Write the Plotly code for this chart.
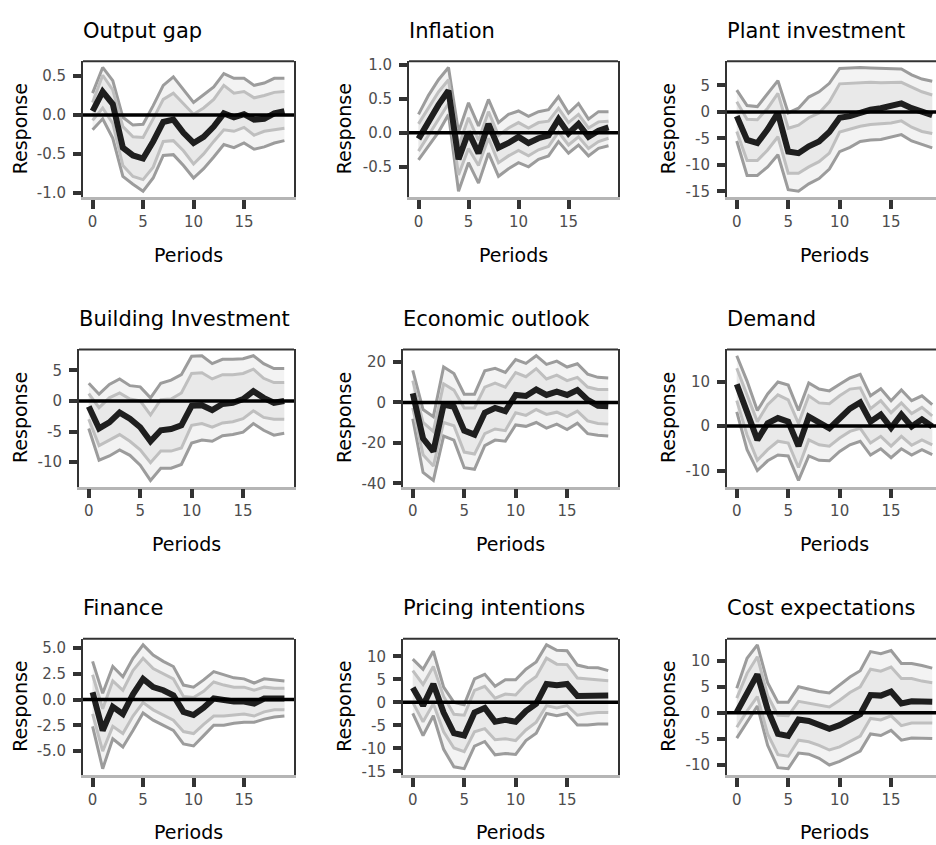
import plotly.graph_objects as go

# ---------------------------------------------------------------------------
# Impulse responses: median with two credible bands (inner / outer)
# ---------------------------------------------------------------------------
periods = list(range(20))

output_gap_med = [0.05, 0.30, 0.14, -0.42, -0.52, -0.56, -0.34, -0.09, -0.06, -0.23, -0.36, -0.28, -0.15, 0.02, -0.03, 0.01, -0.06, -0.05, 0.02, 0.05]
output_gap_hi2 = [0.28, 0.61, 0.44, -0.03, -0.13, -0.12, 0.12, 0.38, 0.49, 0.32, 0.16, 0.26, 0.36, 0.53, 0.47, 0.47, 0.38, 0.41, 0.47, 0.47]
output_gap_hi1 = [0.16, 0.51, 0.32, -0.15, -0.28, -0.29, -0.05, 0.20, 0.28, 0.14, 0.01, 0.09, 0.20, 0.38, 0.28, 0.30, 0.22, 0.25, 0.29, 0.30]
output_gap_lo1 = [-0.07, 0.09, -0.11, -0.65, -0.79, -0.83, -0.67, -0.34, -0.33, -0.46, -0.63, -0.50, -0.34, -0.19, -0.21, -0.16, -0.26, -0.21, -0.19, -0.17]
output_gap_lo2 = [-0.19, -0.05, -0.30, -0.79, -0.89, -0.98, -0.81, -0.52, -0.51, -0.65, -0.81, -0.69, -0.54, -0.38, -0.42, -0.36, -0.44, -0.41, -0.36, -0.33]
output_gap_ticks = [-1.0, -0.5, 0.0, 0.5]
output_gap_labels = ["-1.0", "-0.5", "0.0", "0.5"]

inflation_med = [-0.09, 0.17, 0.41, 0.62, -0.39, 0.01, -0.30, 0.13, -0.22, -0.15, -0.06, -0.15, -0.08, -0.04, 0.20, -0.01, 0.13, -0.06, 0.03, 0.08]
inflation_hi2 = [0.27, 0.55, 0.78, 0.96, 0.01, 0.44, 0.10, 0.49, 0.15, 0.27, 0.32, 0.24, 0.31, 0.34, 0.53, 0.29, 0.43, 0.20, 0.31, 0.31]
inflation_hi1 = [0.13, 0.36, 0.60, 0.78, -0.20, 0.22, -0.11, 0.31, -0.04, 0.07, 0.15, 0.07, 0.15, 0.17, 0.36, 0.15, 0.27, 0.07, 0.16, 0.17]
inflation_lo1 = [-0.27, -0.04, 0.20, 0.43, -0.62, -0.23, -0.48, -0.08, -0.44, -0.34, -0.26, -0.34, -0.25, -0.20, 0.01, -0.18, -0.06, -0.23, -0.13, -0.08]
inflation_lo2 = [-0.40, -0.20, 0.01, 0.27, -0.86, -0.44, -0.74, -0.30, -0.64, -0.53, -0.44, -0.50, -0.39, -0.34, -0.13, -0.30, -0.18, -0.34, -0.23, -0.19]
inflation_ticks = [-0.5, 0.0, 0.5, 1.0]
inflation_labels = ["-0.5", "0.0", "0.5", "1.0"]

plant_med = [-0.8, -5.3, -5.9, -3.3, -0.2, -7.5, -7.8, -6.5, -5.6, -3.8, -1.1, -0.8, -0.2, 0.4, 0.7, 1.2, 1.6, 0.7, -0.1, -0.6]
plant_hi2 = [4.1, 1.2, 1.0, 3.5, 5.9, -0.2, 0.7, 2.8, 3.8, 5.4, 8.2, 8.3, 8.4, 8.3, 8.2, 8.2, 8.1, 7.0, 6.2, 5.8]
plant_hi1 = [1.9, -1.4, -1.5, 0.7, 3.5, -3.1, -2.5, -1.1, -0.2, 1.9, 5.3, 5.4, 5.6, 5.6, 5.5, 5.5, 5.6, 4.7, 3.8, 3.2]
plant_lo1 = [-3.7, -9.2, -9.2, -7.2, -4.7, -11.6, -11.6, -10.4, -9.4, -7.8, -3.8, -3.3, -2.7, -2.4, -2.3, -2.1, -1.7, -2.9, -3.7, -4.1]
plant_lo2 = [-5.5, -12.0, -12.0, -10.4, -8.1, -14.7, -15.0, -13.6, -12.6, -10.8, -7.5, -6.7, -5.6, -5.3, -5.2, -4.8, -4.3, -5.5, -6.2, -6.8]
plant_ticks = [-15, -10, -5, 0, 5]
plant_labels = ["-15", "-10", "-5", "0", "5"]

building_med = [-0.9, -4.5, -3.5, -1.9, -2.9, -4.3, -6.6, -4.8, -4.6, -4.0, -0.8, -0.7, -1.5, -0.5, -0.3, 0.3, 1.6, 0.5, -0.3, 0.0]
building_hi2 = [2.9, 1.1, 2.7, 3.6, 2.5, 2.3, 0.5, 2.9, 3.4, 4.3, 7.3, 7.4, 6.1, 6.8, 6.8, 6.9, 7.4, 6.1, 5.3, 5.3]
building_hi1 = [1.2, -1.1, 0.5, 1.3, 0.3, 0.0, -2.3, 0.2, 0.3, 1.3, 4.5, 4.6, 3.6, 4.3, 4.3, 4.5, 5.2, 3.7, 3.0, 3.0]
building_lo1 = [-3.0, -7.3, -6.4, -5.5, -6.6, -8.0, -10.1, -8.2, -8.2, -7.7, -4.0, -3.7, -4.3, -3.6, -3.4, -2.9, -1.6, -2.7, -3.0, -3.0]
building_lo2 = [-4.5, -9.7, -9.0, -8.0, -8.9, -10.5, -13.0, -11.0, -11.0, -10.4, -6.9, -6.4, -6.6, -5.7, -5.5, -5.1, -3.7, -4.8, -5.6, -5.3]
building_ticks = [-10, -5, 0, 5]
building_labels = ["-10", "-5", "0", "5"]

outlook_med = [4.5, -17.8, -24.2, -1.1, -2.2, -13.9, -15.9, -5.1, -2.7, -4.3, 3.7, 3.2, 6.4, 3.7, 5.3, 3.7, 6.1, 1.3, -1.6, -1.9]
outlook_hi2 = [15.9, -3.5, -7.0, 17.5, 14.3, 4.1, 4.1, 15.6, 16.9, 14.8, 21.2, 19.3, 23.1, 18.8, 20.4, 17.5, 19.1, 14.0, 12.4, 12.1]
outlook_hi1 = [10.8, -9.9, -14.3, 9.2, 6.1, -2.7, -2.7, 7.6, 9.6, 7.6, 14.8, 12.7, 16.7, 11.6, 13.5, 10.8, 12.4, 7.6, 6.4, 6.4]
outlook_lo1 = [-2.7, -25.8, -31.4, -9.9, -11.5, -24.5, -25.5, -15.4, -13.1, -13.9, -5.1, -6.4, -3.5, -5.9, -4.8, -7.0, -4.3, -9.1, -10.4, -10.7]
outlook_lo2 = [-8.0, -34.6, -38.5, -16.6, -18.6, -32.2, -33.0, -21.3, -18.6, -19.1, -11.1, -11.8, -9.9, -12.7, -10.7, -13.4, -10.2, -15.4, -16.2, -16.6]
outlook_ticks = [-40, -20, 0, 20]
outlook_labels = ["-40", "-20", "0", "20"]

demand_med = [9.4, 3.2, -3.1, 0.6, 1.8, 1.0, -4.5, 2.1, 0.6, -0.5, 1.7, 3.9, 5.3, 1.0, 2.6, -0.4, 2.6, -0.1, 1.5, -0.1]
demand_hi2 = [15.8, 10.1, 3.5, 7.2, 9.9, 9.2, 3.5, 9.7, 8.3, 7.9, 9.4, 10.8, 11.6, 6.8, 8.4, 5.7, 8.1, 5.7, 6.8, 4.8]
demand_hi1 = [13.0, 7.2, 1.0, 4.8, 7.0, 5.9, 0.6, 6.8, 5.2, 5.0, 6.8, 8.3, 8.6, 3.9, 5.7, 3.0, 5.2, 2.8, 4.2, 2.3]
demand_lo1 = [5.7, -2.0, -7.7, -5.3, -3.4, -3.8, -9.3, -3.1, -4.2, -4.5, -2.7, -1.2, -0.5, -3.8, -2.3, -4.5, -2.3, -4.3, -3.1, -4.2]
demand_lo2 = [3.2, -5.3, -10.0, -7.8, -6.5, -6.7, -12.2, -6.7, -7.7, -7.8, -5.7, -4.2, -3.4, -6.5, -5.1, -7.1, -5.1, -6.5, -5.3, -6.4]
demand_ticks = [-10, 0, 10]
demand_labels = ["-10", "0", "10"]

finance_med = [0.7, -3.0, -0.7, -1.4, 0.5, 2.0, 1.2, 0.9, 0.4, -1.2, -1.5, -0.8, 0.1, -0.1, -0.2, -0.2, -0.4, 0.1, 0.1, 0.1]
finance_hi2 = [3.7, 0.6, 3.2, 2.2, 4.0, 5.3, 4.3, 3.7, 3.2, 1.4, 1.2, 1.9, 2.7, 2.4, 2.1, 2.0, 1.6, 2.0, 1.9, 1.8]
finance_hi1 = [2.4, -0.9, 1.8, 0.9, 2.8, 4.0, 3.0, 2.5, 2.0, 0.3, 0.2, 0.8, 1.7, 1.4, 1.2, 1.2, 0.9, 1.2, 1.1, 1.1]
finance_lo1 = [-1.4, -5.0, -2.6, -3.3, -1.6, -0.3, -1.0, -1.5, -2.0, -3.1, -3.3, -2.4, -1.6, -1.6, -1.5, -1.4, -1.6, -1.2, -1.0, -1.0]
finance_lo2 = [-2.6, -6.7, -3.8, -4.6, -3.0, -1.3, -2.0, -2.5, -3.0, -4.3, -4.5, -3.5, -2.5, -2.5, -2.3, -2.2, -2.2, -1.9, -1.7, -1.6]
finance_ticks = [-5.0, -2.5, 0.0, 2.5, 5.0]
finance_labels = ["-5.0", "-2.5", "0.0", "2.5", "5.0"]

pricing_med = [3.2, -0.7, 4.0, -2.2, -6.7, -7.2, -2.2, -1.2, -4.2, -3.8, -4.2, -1.9, -0.3, 4.0, 3.7, 4.0, 1.4, 1.4, 1.6, 1.5]
pricing_hi2 = [9.4, 7.2, 11.1, 3.3, 0.0, -0.5, 5.1, 6.1, 3.5, 4.9, 4.9, 7.2, 8.8, 12.5, 11.3, 11.2, 8.1, 7.6, 7.5, 6.9]
pricing_hi1 = [6.9, 3.9, 7.8, 1.3, -2.6, -2.8, 2.6, 3.5, 0.9, 1.8, 1.6, 4.0, 5.6, 9.6, 8.3, 8.2, 5.3, 5.1, 4.9, 4.7]
pricing_lo1 = [0.0, -4.2, -0.3, -6.4, -9.9, -10.7, -6.4, -5.7, -8.1, -7.9, -8.3, -6.0, -4.3, -0.7, -1.2, -0.7, -2.8, -2.4, -2.2, -2.2]
pricing_lo2 = [-2.4, -7.2, -2.9, -10.2, -14.0, -14.4, -9.5, -8.5, -11.4, -11.1, -11.3, -8.3, -6.7, -2.4, -2.9, -2.4, -4.9, -4.9, -4.7, -4.7]
pricing_ticks = [-15, -10, -5, 0, 5, 10]
pricing_labels = ["-15", "-10", "-5", "0", "5", "10"]

cost_med = [0.1, 3.9, 7.4, 0.6, -4.1, -4.5, -1.3, -1.6, -2.2, -3.1, -2.4, -1.4, -0.3, 3.4, 3.3, 4.1, 1.8, 2.2, 2.2, 2.1]
cost_hi2 = [4.7, 10.5, 13.1, 5.8, 2.0, 2.0, 5.0, 4.5, 4.1, 3.8, 5.3, 6.9, 8.1, 11.8, 11.4, 12.0, 9.5, 9.5, 9.1, 8.6]
cost_hi1 = [2.8, 7.6, 10.8, 3.3, -0.5, -0.6, 2.2, 1.8, 1.4, 1.1, 2.4, 3.9, 5.0, 8.4, 8.0, 8.8, 6.6, 6.6, 6.1, 5.8]
cost_lo1 = [-2.8, 0.3, 3.1, -4.1, -8.1, -8.4, -5.3, -5.6, -6.3, -7.2, -6.6, -5.6, -4.5, -1.1, -1.4, -0.6, -2.5, -2.0, -2.0, -2.0]
cost_lo2 = [-4.9, -1.8, 1.3, -6.3, -10.6, -10.8, -7.8, -8.0, -8.8, -10.1, -9.4, -8.4, -7.4, -4.1, -4.4, -3.4, -5.3, -4.9, -4.9, -5.0]
cost_ticks = [-10, -5, 0, 5, 10]
cost_labels = ["-10", "-5", "0", "5", "10"]

period_ticks = [0, 5, 10, 15]
period_labels = ["0", "5", "10", "15"]

panels = [
    ("Output gap", output_gap_med, output_gap_hi1, output_gap_hi2, output_gap_lo1, output_gap_lo2, output_gap_ticks, output_gap_labels),
    ("Inflation", inflation_med, inflation_hi1, inflation_hi2, inflation_lo1, inflation_lo2, inflation_ticks, inflation_labels),
    ("Plant investment", plant_med, plant_hi1, plant_hi2, plant_lo1, plant_lo2, plant_ticks, plant_labels),
    ("Building Investment", building_med, building_hi1, building_hi2, building_lo1, building_lo2, building_ticks, building_labels),
    ("Economic outlook", outlook_med, outlook_hi1, outlook_hi2, outlook_lo1, outlook_lo2, outlook_ticks, outlook_labels),
    ("Demand", demand_med, demand_hi1, demand_hi2, demand_lo1, demand_lo2, demand_ticks, demand_labels),
    ("Finance", finance_med, finance_hi1, finance_hi2, finance_lo1, finance_lo2, finance_ticks, finance_labels),
    ("Pricing intentions", pricing_med, pricing_hi1, pricing_hi2, pricing_lo1, pricing_lo2, pricing_ticks, pricing_labels),
    ("Cost expectations", cost_med, cost_hi1, cost_hi2, cost_lo1, cost_lo2, cost_ticks, cost_labels),
]

# ---------------------------------------------------------------------------
# Page geometry (pixels); each plot cell is 324 px wide
# ---------------------------------------------------------------------------
W, H = 972, 845
CELL_W = 324
panel_left = [83, 85, 79, 79, 79, 79, 83, 79, 79]   # offset inside the cell
PANEL_RIGHT = 294
row_top = [57, 349, 642]
row_bottom = [195, 488, 780]

FONT = "DejaVu Sans, Verdana, sans-serif"
TICK_FONT = dict(family=FONT, size=15, color="#4D4D4D")
AX_COLOR = "#333333"
TICK_COLOR = "#333333"

OUTER_FILL = "#F3F3F3"
INNER_FILL = "#E9E9E9"
OUTER_LINE = "#9C9C9C"
INNER_LINE = "#BFBFBF"
MEDIAN_LINE = "#1E1E1E"


def px_x(v):
    return v / W


def px_y(v):
    return 1 - v / H


fig = go.Figure()
annotations = []
shapes = []
layout_axes = {}

for i, (title, med, hi1, hi2, lo1, lo2, yticks, ylabels) in enumerate(panels):
    r, c = divmod(i, 3)
    suffix = "" if i == 0 else str(i + 1)
    xa, ya = f"x{suffix}", f"y{suffix}"
    left = c * CELL_W + panel_left[i]
    right = c * CELL_W + PANEL_RIGHT
    top, bottom = row_top[r], row_bottom[r]

    # bands
    fig.add_trace(go.Scatter(
        x=periods + periods[::-1], y=hi2 + lo2[::-1], fill="toself",
        fillcolor=OUTER_FILL, line=dict(width=0), mode="lines",
        xaxis=xa, yaxis=ya, hoverinfo="skip"))
    fig.add_trace(go.Scatter(
        x=periods + periods[::-1], y=hi1 + lo1[::-1], fill="toself",
        fillcolor=INNER_FILL, line=dict(width=0), mode="lines",
        xaxis=xa, yaxis=ya, hoverinfo="skip"))
    for series in (hi2, lo2):
        fig.add_trace(go.Scatter(x=periods, y=series, mode="lines",
                                 line=dict(color=OUTER_LINE, width=3),
                                 xaxis=xa, yaxis=ya))
    for series in (hi1, lo1):
        fig.add_trace(go.Scatter(x=periods, y=series, mode="lines",
                                 line=dict(color=INNER_LINE, width=3),
                                 xaxis=xa, yaxis=ya))
    fig.add_trace(go.Scatter(x=periods, y=med, mode="lines",
                             line=dict(color=MEDIAN_LINE, width=6),
                             xaxis=xa, yaxis=ya))

    lo_all = min(lo2 + [0])
    hi_all = max(hi2 + [0])
    pad = 0.05 * (hi_all - lo_all)

    layout_axes[f"xaxis{suffix}"] = dict(
        domain=[px_x(left), px_x(right)], anchor=ya,
        range=[-0.95, 19.95], tickmode="array",
        tickvals=period_ticks, ticktext=period_labels,
        ticks="outside", ticklen=9, tickwidth=3.5, tickcolor=TICK_COLOR,
        showline=True, linecolor="#B5B5B5", linewidth=2.5,
        showgrid=False, zeroline=False, tickfont=TICK_FONT,
        fixedrange=True)
    layout_axes[f"yaxis{suffix}"] = dict(
        domain=[px_y(bottom), px_y(top)], anchor=xa,
        range=[lo_all - pad, hi_all + pad], tickmode="array",
        tickvals=yticks, ticktext=ylabels,
        ticks="outside", ticklen=8, tickwidth=3.5, tickcolor=TICK_COLOR,
        showline=True, linecolor=AX_COLOR, linewidth=2, mirror=True,
        showgrid=False, zeroline=False, tickfont=TICK_FONT,
        ticklabelstandoff=4, fixedrange=True)

    # zero reference line and top border
    shapes.append(dict(type="line", xref=f"{xa} domain", yref=ya,
                       x0=0, x1=1, y0=0, y1=0,
                       line=dict(color="black", width=3.5), layer="above"))
    shapes.append(dict(type="line", xref=f"{xa} domain", yref=f"{ya} domain",
                       x0=0, x1=1, y0=1, y1=1,
                       line=dict(color=AX_COLOR, width=2), layer="above"))

    # panel title, axis titles
    annotations.append(dict(text=title, xref="paper", yref="paper",
                            x=px_x(left - 2), y=px_y(top - 31),
                            xanchor="left", yanchor="middle", showarrow=False,
                            font=dict(family=FONT, size=21, color="black")))
    annotations.append(dict(text="Response", xref="paper", yref="paper",
                            x=px_x(c * CELL_W + 20), y=px_y((top + bottom) / 2),
                            xanchor="center", yanchor="middle", textangle=-90,
                            showarrow=False,
                            font=dict(family=FONT, size=19, color="black")))
    annotations.append(dict(text="Periods", xref="paper", yref="paper",
                            x=px_x((left + right) / 2), y=px_y(bottom + 58),
                            xanchor="center", yanchor="middle", showarrow=False,
                            font=dict(family=FONT, size=19, color="black")))

fig.update_layout(
    width=W, height=H,
    margin=dict(l=0, r=0, t=0, b=0),
    paper_bgcolor="white", plot_bgcolor="white",
    showlegend=False, hovermode=False,
    annotations=annotations, shapes=shapes,
    **layout_axes,
)

fig.write_html(
    "out.html",
    config={"displayModeBar": False},
    post_script="document.documentElement.style.overflow='hidden';"
                "document.body.style.overflow='hidden';"
                "document.body.style.margin='0';",
)
